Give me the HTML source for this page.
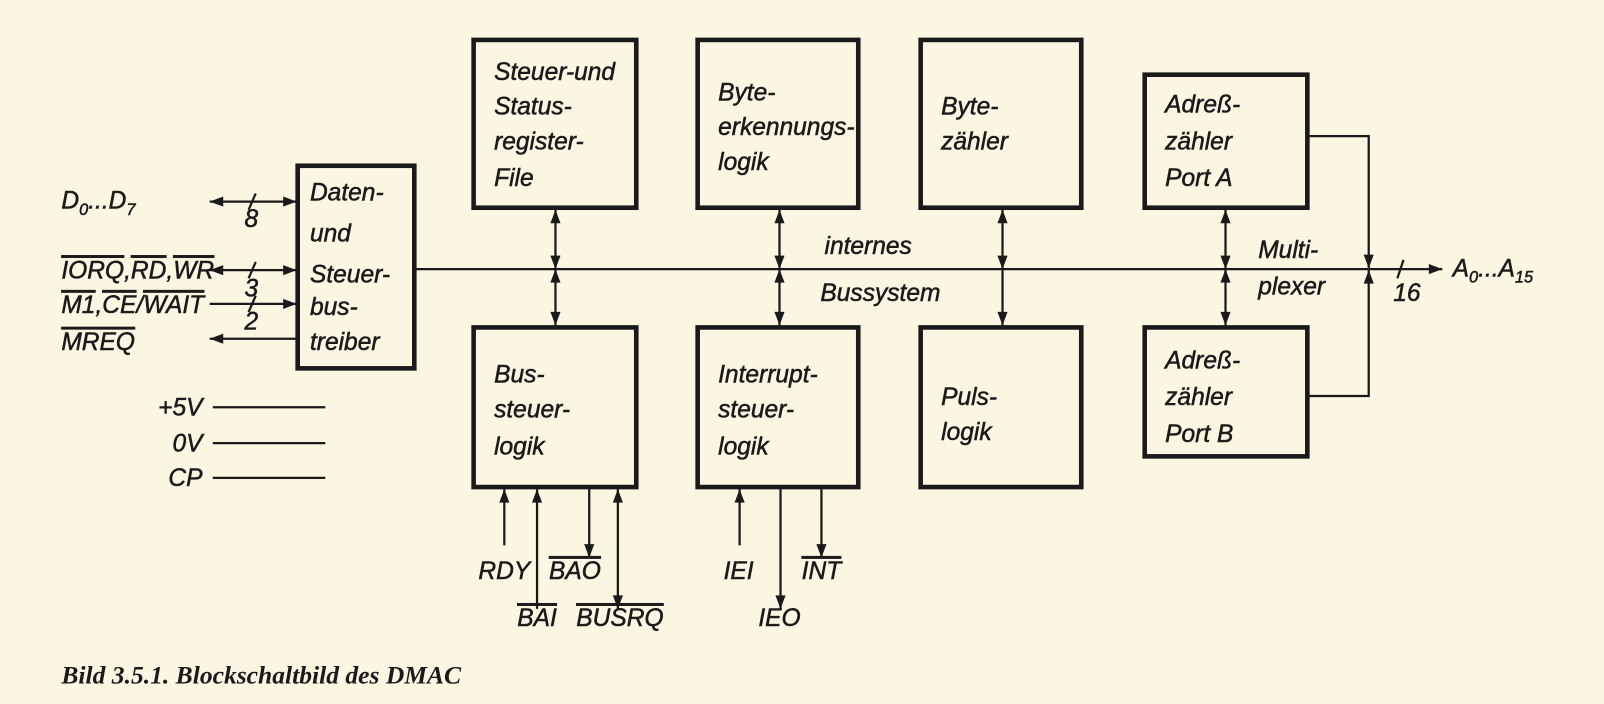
<!DOCTYPE html>
<html><head><meta charset="utf-8"><style>
html,body{margin:0;padding:0;background:#fbf6e2;}
svg{display:block}
text{font-family:"Liberation Sans",sans-serif;font-style:italic;font-size:24px;fill:#1a1a1a;stroke:#1a1a1a;stroke-width:0.5}
.o{text-decoration:overline}
</style></head><body>
<svg width="1604" height="704" viewBox="0 0 1568 688" preserveAspectRatio="none" xmlns="http://www.w3.org/2000/svg">
<defs>
<marker id="a" viewBox="0 0 12 10" refX="12" refY="5" markerWidth="16" markerHeight="11" markerUnits="userSpaceOnUse" orient="auto-start-reverse"><path d="M0,0.5 L12,5 L0,9.5 Z" fill="#1a1a1a"/></marker>
</defs>
<rect width="1568" height="688" fill="#fbf6e2"/>
<g fill="none" stroke="#1a1a1a" stroke-width="4.5">
<rect x="291" y="162" width="114" height="198"/>
<rect x="463" y="39" width="159" height="164"/>
<rect x="463" y="320" width="159" height="156"/>
<rect x="682" y="39" width="157" height="164"/>
<rect x="682" y="320" width="157" height="156"/>
<rect x="900" y="39" width="157" height="164"/>
<rect x="900" y="320" width="157" height="156"/>
<rect x="1119" y="73" width="159" height="130"/>
<rect x="1119" y="320" width="159" height="126"/>
</g>
<g stroke="#1a1a1a" stroke-width="2.2" fill="none">
<line x1="405" y1="263" x2="1338" y2="263"/>
<line x1="543" y1="205" x2="543" y2="263" marker-start="url(#a)" marker-end="url(#a)"/>
<line x1="543" y1="263" x2="543" y2="318" marker-start="url(#a)" marker-end="url(#a)"/>
<line x1="762" y1="205" x2="762" y2="263" marker-start="url(#a)" marker-end="url(#a)"/>
<line x1="762" y1="263" x2="762" y2="318" marker-start="url(#a)" marker-end="url(#a)"/>
<line x1="980" y1="205" x2="980" y2="263" marker-start="url(#a)" marker-end="url(#a)"/>
<line x1="980" y1="263" x2="980" y2="318" marker-end="url(#a)"/>
<line x1="1198" y1="205" x2="1198" y2="263" marker-start="url(#a)" marker-end="url(#a)"/>
<line x1="1198" y1="263" x2="1198" y2="318" marker-start="url(#a)" marker-end="url(#a)"/>
<polyline points="1278,133 1338,133 1338,262" marker-end="url(#a)"/>
<polyline points="1278,387 1338,387 1338,264" marker-end="url(#a)"/>
<line x1="1338" y1="263" x2="1410" y2="263" marker-end="url(#a)"/>
<line x1="1366" y1="272" x2="1372" y2="254"/>
<line x1="205" y1="197" x2="290" y2="197" marker-start="url(#a)" marker-end="url(#a)"/>
<line x1="243" y1="205" x2="250" y2="189"/>
<line x1="205" y1="264" x2="290" y2="264" marker-start="url(#a)" marker-end="url(#a)"/>
<line x1="243" y1="272" x2="250" y2="256"/>
<line x1="205" y1="297" x2="290" y2="297" marker-end="url(#a)"/>
<line x1="243" y1="305" x2="250" y2="289"/>
<line x1="290" y1="331" x2="205" y2="331" marker-end="url(#a)"/>
<line x1="208" y1="398" x2="318" y2="398"/>
<line x1="208" y1="433" x2="318" y2="433"/>
<line x1="208" y1="467" x2="318" y2="467"/>
<line x1="493" y1="533" x2="493" y2="478" marker-end="url(#a)"/>
<line x1="525" y1="595" x2="525" y2="478" marker-end="url(#a)"/>
<line x1="576" y1="478" x2="576" y2="545" marker-end="url(#a)"/>
<line x1="604" y1="478" x2="604" y2="595" marker-start="url(#a)" marker-end="url(#a)"/>
<line x1="723" y1="533" x2="723" y2="478" marker-end="url(#a)"/>
<line x1="763" y1="478" x2="763" y2="595" marker-end="url(#a)"/>
<line x1="803" y1="478" x2="803" y2="545" marker-end="url(#a)"/>
</g>
<text x="303" y="196">Daten-</text><text x="303" y="236">und</text><text x="303" y="276">Steuer-</text><text x="303" y="308">bus-</text><text x="303" y="342">treiber</text>
<text x="483" y="78">Steuer-und</text><text x="483" y="112">Status-</text><text x="483" y="146">register-</text><text x="483" y="182">File</text>
<text x="483" y="374">Bus-</text><text x="483" y="408">steuer-</text><text x="483" y="444">logik</text>
<text x="702" y="98">Byte-</text><text x="702" y="132">erkennungs-</text><text x="702" y="166">logik</text>
<text x="702" y="374">Interrupt-</text><text x="702" y="408">steuer-</text><text x="702" y="444">logik</text>
<text x="920" y="112">Byte-</text><text x="920" y="146">zähler</text>
<text x="920" y="396">Puls-</text><text x="920" y="430">logik</text>
<text x="1139" y="110">Adreß-</text><text x="1139" y="146">zähler</text><text x="1139" y="182">Port A</text>
<text x="1139" y="360">Adreß-</text><text x="1139" y="396">zähler</text><text x="1139" y="432">Port B</text>
<text x="806" y="248">internes</text><text x="802" y="294">Bussystem</text>
<text x="1230" y="252">Multi-</text><text x="1230" y="288">plexer</text>
<text x="1362" y="294" font-size="20">16</text>
<text x="1420" y="270">A<tspan font-size="16" dy="6">0</tspan><tspan dy="-6">...A</tspan><tspan font-size="16" dy="6">15</tspan></text>
<text x="60" y="204">D<tspan font-size="16" dy="6">0</tspan><tspan dy="-6">...D</tspan><tspan font-size="16" dy="6">7</tspan></text>
<text x="239" y="222" font-size="19">8</text>
<text x="239" y="290" font-size="19">3</text>
<text x="239" y="322" font-size="19">2</text>
<text x="60" y="272"><tspan class="o">IORQ</tspan>,<tspan class="o">RD</tspan>,<tspan class="o">WR</tspan></text>
<text x="60" y="306"><tspan class="o">M1</tspan>,<tspan class="o">CE</tspan>/<tspan class="o">WAIT</tspan></text>
<text x="60" y="342" class="o">MREQ</text>
<text x="198" y="406" text-anchor="end">+5V</text>
<text x="198" y="441" text-anchor="end">0V</text>
<text x="198" y="475" text-anchor="end">CP</text>
<text x="493" y="566" text-anchor="middle">RDY</text>
<text x="525" y="612" text-anchor="middle" class="o">BAI</text>
<text x="562" y="566" text-anchor="middle" class="o">BAO</text>
<text x="606" y="612" text-anchor="middle" class="o">BUSRQ</text>
<text x="722" y="566" text-anchor="middle">IEI</text>
<text x="762" y="612" text-anchor="middle">IEO</text>
<text x="803" y="566" text-anchor="middle" class="o">INT</text>
<text x="60" y="668" style="font-family:'Liberation Serif',serif;font-weight:bold;font-size:25px;stroke-width:0">Bild 3.5.1. Blockschaltbild des DMAC</text>
</svg>
</body></html>
